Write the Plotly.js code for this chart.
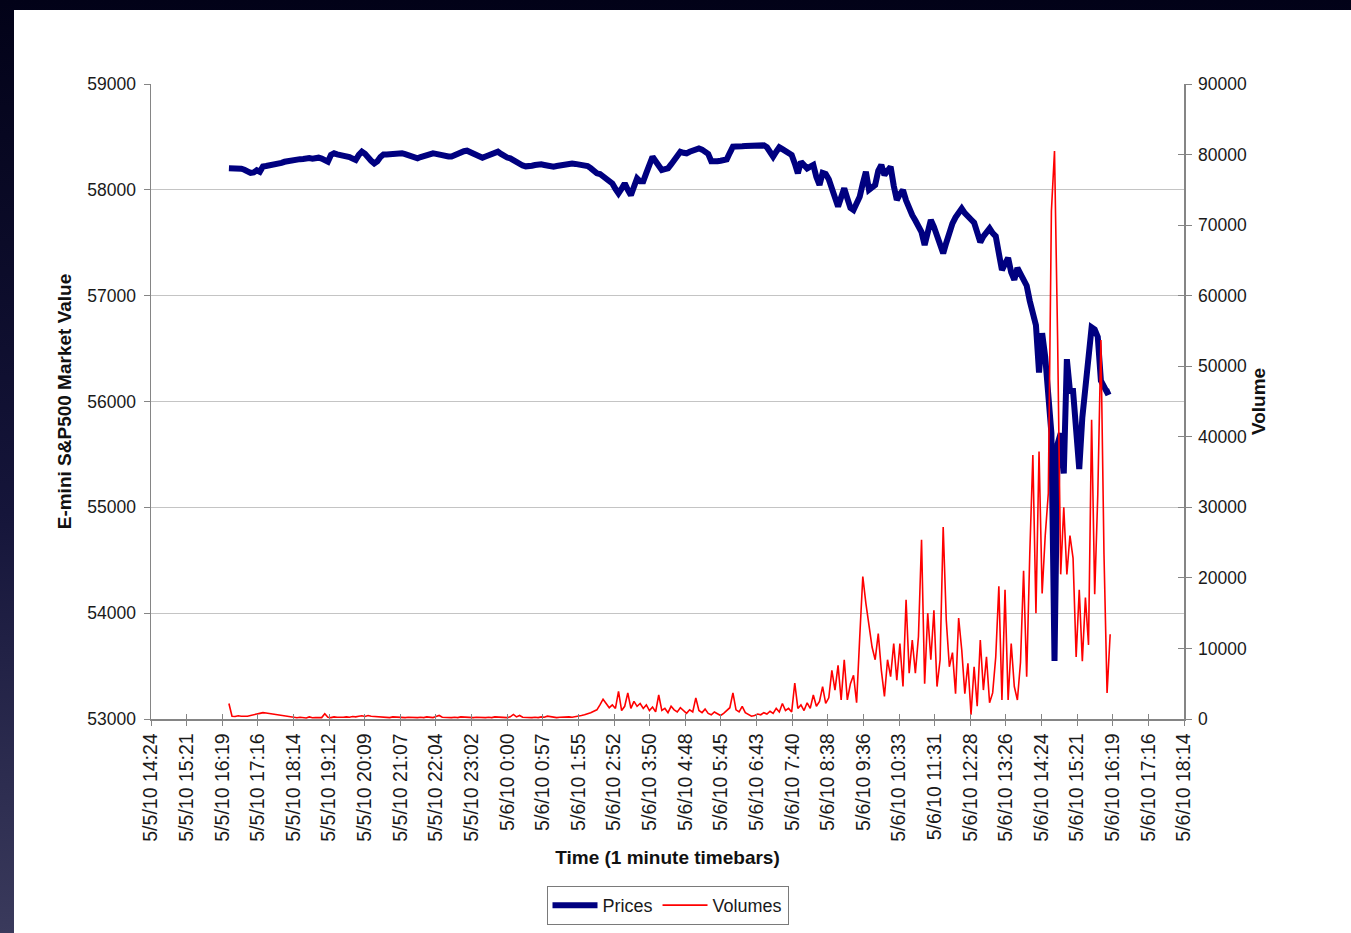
<!DOCTYPE html>
<html>
<head>
<meta charset="utf-8">
<script src="https://cdn.plot.ly/plotly-3.0.1.min.js"></script>
<style>
  html, body { margin: 0; padding: 0; width: 1351px; height: 933px; overflow: hidden; }
  body { background: linear-gradient(180deg, #020218 0%, #15153a 55%, #3a3a5c 100%); position: relative; }
  #chart { position: absolute; left: 14px; top: 10px; width: 1337px; height: 923px; background: #ffffff; }
</style>
</head>
<body>
<div id="chart"></div>
<script>
// ---- Data (1-minute timebars, read every 5 minutes) ----
const firstBar = Date.UTC(2010, 4, 5, 16, 30);   // 5/5/10 16:30
const barStepMinutes = 5;

const prices = [
  58205,58205,58200,58205,58200,58190,58175,58160,58165,58185,58170,58220,
  58225,58230,58232,58235,58250,58255,58265,58272,58275,58280,58285,58290,
  58292,58298,58300,58295,58300,58304,58295,58280,58266,58330,58345,58335,
  58330,58325,58323,58310,58295,58282,58330,58360,58340,58300,58275,58250,
  58270,58310,58335,58335,58338,58340,58340,58343,58345,58338,58325,58315,
  58305,58298,58310,58320,58330,58340,58345,58340,58332,58325,58320,58315,
  58315,58330,58345,58355,58365,58370,58355,58340,58325,58312,58304,58315,
  58330,58345,58355,58360,58340,58320,58305,58298,58280,58260,58240,58230,
  58222,58220,58228,58235,58240,58241,58235,58228,58222,58219,58225,58232,
  58240,58245,58250,58248,58245,58240,58238,58241,58225,58205,58180,58156,
  58150,58130,58110,58093,58060,58010,57967,58010,58061,58000,57950,58030,
  58108,58080,58080,58160,58250,58313,58270,58220,58187,58195,58203,58240,
  58280,58320,58360,58350,58345,58360,58375,58385,58392,58380,58365,58340,
  58270,58266,58270,58275,58280,58288,58350,58408,58410,58405,58412,58414,
  58415,58420,58425,58430,58433,58420,58402,58360,58313,58360,58402,58385,
  58365,58350,58330,58250,58156,58266,58230,58203,58220,58235,58120,58046,
  58160,58150,58100,58020,57920,57841,57930,58014,57920,57830,57809,57870,
  57935,58060,58171,58000,58020,58046,58180,58235,58140,58190,58219,58040,
  57904,57960,57998,57900,57809,57760,57710,57665,57600,57479,57600,57715,
  57650,57560,57470,57400,57500,57600,57683,57740,57790,57823,57780,57740,
  57720,57690,57600,57505,57560,57610,57636,57590,57561,57400,57242,57300,
  57356,57220,57150,57262,57200,57130,57094,56950,56830,56721,56273,56646,
  56420,56100,55700,53549,55600,55700,55320,56400,56100,56100,55800,55362,
  55850,56150,56350,56700,56680,56610,56198,56150,56087,56100
];

const volumes = [
  2200,400,350,450,400,350,400,500,550,700,800,900,
  850,780,700,620,540,470,400,320,250,200,180,250,
  200,150,300,180,200,250,200,750,250,200,300,250,
  200,250,300,250,350,300,400,450,350,500,400,350,
  300,250,300,250,200,300,250,200,150,200,250,200,
  150,200,250,200,300,250,200,350,500,250,200,150,
  200,250,200,300,250,200,150,200,250,200,150,200,
  250,200,300,250,200,150,200,300,650,300,500,250,
  200,150,200,250,200,300,250,400,300,250,200,250,
  300,350,300,250,300,400,500,600,700,900,1100,1300,
  2000,2800,2200,1600,2000,1500,3900,1200,1800,3700,1500,2500,
  1800,2200,1500,2000,1200,1700,1000,3400,1200,1500,900,1800,
  1300,1000,1600,1200,800,1300,1000,3000,1200,900,1400,800,
  600,1000,700,500,800,1200,1600,3700,1300,1000,1800,900,
  600,400,500,700,600,900,700,1100,800,1500,1000,2200,
  1200,1500,1000,5100,1500,2000,1200,2300,1500,3400,1800,2500,
  4600,2200,3000,6900,4100,7600,2700,8400,2700,5000,6200,2300,
  11500,20200,16400,13000,10200,8400,12100,6900,3200,8400,6000,10700,
  5500,10700,4600,16900,6500,11200,6500,11700,25400,5000,15000,8400,
  15400,4600,8400,27200,14000,7400,9400,3600,14300,9800,3600,7900,
  600,7400,1800,11200,4100,8800,2300,3700,8800,18800,2700,18300,
  2700,10700,4600,2700,8000,21000,6000,23400,37400,15000,37900,17800,
  26000,32000,72000,80500,54000,20500,30000,20500,26000,22800,8800,18300,
  8200,17200,10500,42400,17700,31800,53700,23400,3700,12000
];

const tickLabels = [
  '5/5/10 14:24','5/5/10 15:21','5/5/10 16:19','5/5/10 17:16','5/5/10 18:14',
  '5/5/10 19:12','5/5/10 20:09','5/5/10 21:07','5/5/10 22:04','5/5/10 23:02',
  '5/6/10 0:00','5/6/10 0:57','5/6/10 1:55','5/6/10 2:52','5/6/10 3:50',
  '5/6/10 4:48','5/6/10 5:45','5/6/10 6:43','5/6/10 7:40','5/6/10 8:38',
  '5/6/10 9:36','5/6/10 10:33','5/6/10 11:31','5/6/10 12:28','5/6/10 13:26',
  '5/6/10 14:24','5/6/10 15:21','5/6/10 16:19','5/6/10 17:16','5/6/10 18:14'
];
const axisStart = Date.UTC(2010, 4, 5, 14, 24);
const majorUnitMs = 0.04 * 86400000;   // Excel major unit 0.04 day

// ---- Build ----
function fmt(ms) { return new Date(ms).toISOString().replace('T', ' ').slice(0, 23); }
const times = prices.map((_, i) => fmt(firstBar + i * barStepMinutes * 60000));
const tickVals = tickLabels.map((_, k) => fmt(axisStart + k * majorUnitMs));
const xRange = [fmt(axisStart), fmt(axisStart + (tickLabels.length - 1) * majorUnitMs)];

const FONT = 'Liberation Sans, Arial, Helvetica, sans-serif';
const AXC = '#858585';
const TXT = '#1a1a1a';

const traces = [
  { x: times, y: prices, name: 'Prices', type: 'scatter', mode: 'lines',
    line: { color: '#000080', width: 6 }, xaxis: 'x', yaxis: 'y' },
  { x: times, y: volumes, name: 'Volumes', type: 'scatter', mode: 'lines',
    line: { color: '#ff0000', width: 1.6 }, xaxis: 'x', yaxis: 'y2' },
  { x: [], y: [], xaxis: 'x2', yaxis: 'y3', showlegend: false, hoverinfo: 'skip', type: 'scatter' }
];

const layout = {
  width: 1337, height: 923,
  margin: { l: 137, r: 167, t: 74, b: 214 },
  paper_bgcolor: '#ffffff', plot_bgcolor: '#ffffff',
  font: { family: FONT, size: 17, color: TXT },
  showlegend: true,
  legend: {
    orientation: 'h', x: 0.5, xanchor: 'center',
    yref: 'container', y: 0.051, yanchor: 'top',
    bordercolor: '#7a7a7a', borderwidth: 1, bgcolor: '#ffffff', itemwidth: 45,
    font: { family: FONT, size: 18, color: TXT }, traceorder: 'normal'
  },
  xaxis: {
    type: 'date', range: xRange, tickvals: tickVals, ticktext: tickLabels,
    tickangle: -90, ticks: 'outside', ticklen: 5, tickcolor: AXC, tickwidth: 1,
    ticklabelstandoff: 0, automargin: false,
    showline: true, linecolor: AXC, linewidth: 1.5, showgrid: false, zeroline: false,
    tickfont: { family: FONT, size: 19.5, color: TXT },
    title: { text: '<b>Time (1 minute timebars)</b>', font: { family: FONT, size: 19, color: '#111' }, standoff: 10 }
  },
  xaxis2: {
    type: 'date', range: xRange, tickvals: tickVals, overlaying: 'x', anchor: 'y',
    ticks: 'inside', ticklen: 5, tickcolor: AXC, showticklabels: false,
    showline: false, showgrid: false, zeroline: false
  },
  yaxis: {
    range: [53000, 59000], tick0: 53000, dtick: 1000, tickformat: 'd',
    ticks: 'outside', ticklen: 6, tickcolor: AXC, showline: true, linecolor: AXC, linewidth: 1.5,
    ticklabelstandoff: 4, automargin: false,
    showgrid: true, gridcolor: '#c4c4c4', gridwidth: 1, zeroline: false,
    tickfont: { family: FONT, size: 17.5, color: TXT },
    title: { text: '<b>E-mini S&P500 Market Value</b>', font: { family: FONT, size: 19, color: '#111' }, standoff: 10 }
  },
  yaxis2: {
    range: [0, 90000], tick0: 0, dtick: 10000, tickformat: 'd', overlaying: 'y', side: 'right', anchor: 'x',
    ticks: 'outside', ticklen: 6, tickcolor: AXC, showline: true, linecolor: AXC, linewidth: 1.5,
    ticklabelstandoff: 3, automargin: false,
    showgrid: false, zeroline: false,
    tickfont: { family: FONT, size: 17.5, color: TXT },
    title: { text: '<b>Volume</b>', font: { family: FONT, size: 19, color: '#111' }, standoff: 6 }
  },
  yaxis3: {
    range: [0, 90000], tick0: 0, dtick: 10000, overlaying: 'y', side: 'right', anchor: 'x',
    ticks: 'inside', ticklen: 6, tickcolor: AXC, showticklabels: false,
    showline: false, showgrid: false, zeroline: false
  }
};

Plotly.newPlot('chart', traces, layout, { displayModeBar: false, staticPlot: true });
</script>
</body>
</html>
